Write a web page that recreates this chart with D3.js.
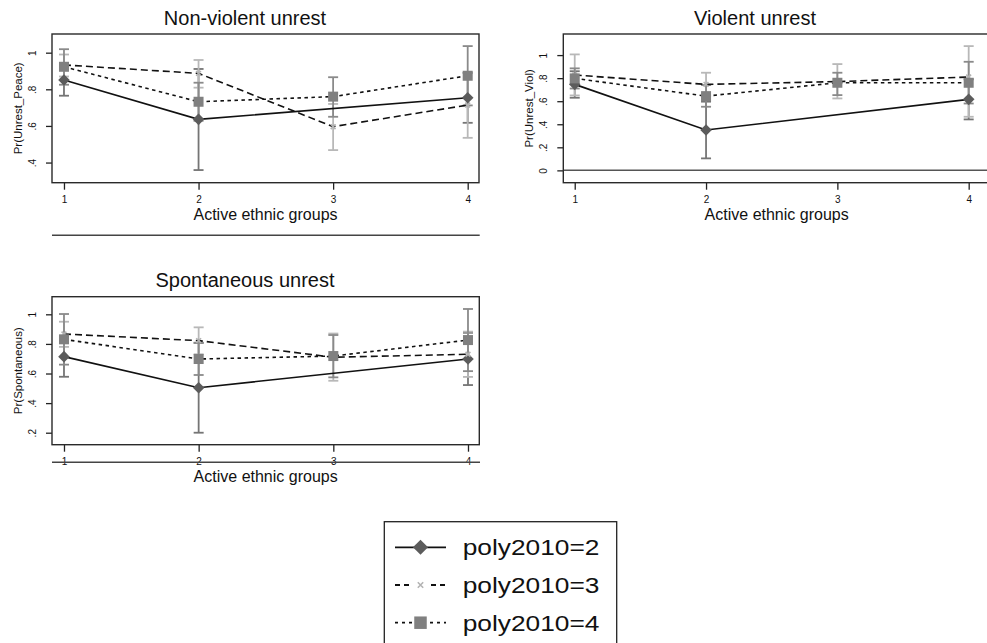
<!DOCTYPE html>
<html><head><meta charset="utf-8">
<script src="https://cdn.jsdelivr.net/npm/d3@7"></script>
<style>
body{margin:0;background:#fff}
svg{display:block}
text{font-family:"Liberation Sans",Arial,Helvetica,sans-serif;fill:#111}
</style>
</head><body>
<svg id="chart" width="987" height="643"></svg>
<script>
// ---------- DATA ----------
const groups = [1, 2, 3, 4];
const seriesNames = ["poly2010=2", "poly2010=3", "poly2010=4"];

// Non-violent unrest
const peace2    = [0.851, 0.636, null, 0.754];
const peace2Lo  = [0.765, 0.359, null, 0.617];
const peace2Hi  = [0.937, 0.911, null, 0.890];
const peace3    = [0.933, 0.887, 0.596, 0.714];
const peace3Lo  = [0.870, 0.809, 0.468, 0.535];
const peace3Hi  = [0.990, 0.960, 0.720, 0.890];
const peace4    = [0.923, 0.732, 0.760, 0.874];
const peace4Lo  = [0.825, 0.628, 0.650, 0.712];
const peace4Hi  = [1.019, 0.836, 0.866, 1.036];

// Violent unrest
const viol2     = [0.746, 0.350, null, 0.616];
const viol2Lo   = [0.630, 0.104, null, 0.442];
const viol2Hi   = [0.860, 0.596, null, 0.790];
const viol3     = [0.827, 0.746, 0.770, 0.810];
const viol3Lo   = [0.650, 0.645, 0.624, 0.465];
const viol3Hi   = [1.006, 0.847, 0.922, 1.078];
const viol4     = [0.798, 0.644, 0.760, 0.760];
const viol4Lo   = [0.710, 0.552, 0.653, 0.580];
const viol4Hi   = [0.885, 0.740, 0.847, 0.942];

// Spontaneous unrest
const spont2    = [0.714, 0.504, null, 0.698];
const spont2Lo  = [0.578, 0.200, null, 0.522];
const spont2Hi  = [0.850, 0.808, null, 0.875];
const spont3    = [0.867, 0.822, 0.710, 0.730];
const spont3Lo  = [0.780, 0.730, 0.551, 0.577];
const spont3Hi  = [0.950, 0.912, 0.870, 0.883];
const spont4    = [0.831, 0.698, 0.718, 0.826];
const spont4Lo  = [0.660, 0.590, 0.574, 0.616];
const spont4Hi  = [1.002, 0.806, 0.860, 1.036];

const peaceTicks = [0.4, 0.6, 0.8, 1];
const peaceTickLabels = [".4", ".6", ".8", "1"];
const violTicks = [0, 0.2, 0.4, 0.6, 0.8, 1];
const violTickLabels = ["0", ".2", ".4", ".6", ".8", "1"];
const spontTicks = [0.2, 0.4, 0.6, 0.8, 1];
const spontTickLabels = [".2", ".4", ".6", ".8", "1"];

const panelTitles = ["Non-violent unrest", "Violent unrest", "Spontaneous unrest"];
const yTitles = ["Pr(Unrest_Peace)", "Pr(Unrest_Viol)", "Pr(Spontaneous)"];
const xTitle = "Active ethnic groups";

// ---------- STYLE ----------
const markerFill = ["#5c5c5c", "#b3b3b3", "#808080"];
const ciColor = ["#757575", "#b8b8b8", "#8a8a8a"];
const dashes = [null, "7,4", "3.5,3.5"];
const shapes = ["diamond", "x", "square"];

const svg = d3.select("#chart");

const panels = [
  { title: panelTitles[0], titleX: 245, titleY: 25, ytitle: yTitles[0],
    box: {l: 52, r: 479, t: 34, b: 182.7},
    xDom: [0.911, 4.084], yDom: [0.29, 1.102],
    ticks: peaceTicks, tickLabels: peaceTickLabels,
    s: [[peace2, peace2Lo, peace2Hi], [peace3, peace3Lo, peace3Hi], [peace4, peace4Lo, peace4Hi]],
    extra: {type: "below", y: 235.3} },
  { title: panelTitles[1], titleX: 755, titleY: 25, ytitle: yTitles[1],
    box: {l: 563.3, r: 990, t: 34, b: 182.7},
    xDom: [0.913, null], yDom: [-0.107, 1.183],
    ticks: violTicks, tickLabels: violTickLabels,
    s: [[viol2, viol2Lo, viol2Hi], [viol3, viol3Lo, viol3Hi], [viol4, viol4Lo, viol4Hi]],
    extra: {type: "zero"} },
  { title: panelTitles[2], titleX: 245, titleY: 287, ytitle: yTitles[2],
    box: {l: 52, r: 479.3, t: 296.7, b: 444.7},
    xDom: [0.911, 4.084], yDom: [0.119, 1.119],
    ticks: spontTicks, tickLabels: spontTickLabels,
    s: [[spont2, spont2Lo, spont2Hi], [spont3, spont3Lo, spont3Hi], [spont4, spont4Lo, spont4Hi]],
    extra: {type: "labelline", y: 462.3} }
];

function drawMarker(g, shape, x, y, i, size) {
  if (shape === "diamond") {
    const h = size * 0.58;
    g.append("path").attr("d", `M${x},${y-h}L${x+h},${y}L${x},${y+h}L${x-h},${y}Z`)
      .attr("fill", markerFill[i]);
  } else if (shape === "square") {
    const h = size * 0.5;
    g.append("rect").attr("x", x-h).attr("y", y-h).attr("width", 2*h).attr("height", 2*h)
      .attr("fill", markerFill[i]);
  } else {
    const h = size * 0.3;
    g.append("path").attr("d", `M${x-h},${y-h}L${x+h},${y+h}M${x-h},${y+h}L${x+h},${y-h}`)
      .attr("stroke", markerFill[i]).attr("stroke-width", 1.6).attr("fill", "none");
  }
}

panels.forEach(p => {
  const B = p.box;
  let xd1 = p.xDom[1];
  if (xd1 === null) xd1 = 1 + (B.r - B.l) * 3 / (979.8 - 575); // same spacing as ticks
  const x = d3.scaleLinear().domain([p.xDom[0], xd1]).range([B.l, B.r]);
  const y = d3.scaleLinear().domain(p.yDom).range([B.b, B.t]);
  const g = svg.append("g");

  // title
  g.append("text").attr("x", p.titleX).attr("y", p.titleY).attr("text-anchor", "middle")
    .attr("font-size", 20).text(p.title);

  // zero line for violent panel
  if (p.extra.type === "zero") {
    g.append("line").attr("x1", B.l).attr("x2", B.r).attr("y1", y(0)).attr("y2", y(0))
      .attr("stroke", "#555").attr("stroke-width", 1.5);
  }

  // y axis
  const ya = g.append("g").attr("transform", `translate(${B.l},0)`)
    .call(d3.axisLeft(y).tickValues(p.ticks).tickSize(6)
      .tickFormat((d, i) => p.tickLabels[i]));
  ya.select(".domain").remove();
  ya.selectAll(".tick line").attr("stroke", "#222").attr("stroke-width", 1.3);
  ya.selectAll(".tick text").attr("transform", "rotate(-90)").attr("x", 0).attr("y", -16)
    .attr("dy", 0).attr("text-anchor", "middle").attr("font-size", 10)
    .attr("font-family", "Liberation Sans, Arial, sans-serif").attr("fill", "#111");
  g.append("text").attr("transform", `translate(${B.l - 30},${(B.t + B.b) / 2}) rotate(-90)`)
    .attr("text-anchor", "middle").attr("font-size", 11.5).text(p.ytitle);

  // x axis
  const xa = g.append("g").attr("transform", `translate(0,${B.b})`)
    .call(d3.axisBottom(x).tickValues(groups).tickSize(7).tickFormat(d3.format("d")));
  xa.select(".domain").remove();
  xa.selectAll(".tick line").attr("stroke", "#222").attr("stroke-width", 1.3);
  xa.selectAll(".tick text").attr("y", 20.7).attr("dy", 0).attr("font-size", 10)
    .attr("font-family", "Liberation Sans, Arial, sans-serif").attr("fill", "#111");
  g.append("text").attr("x", (B.l + B.r) / 2 + (p.extra.type === "zero" ? 0 : 0))
    .attr("y", B.b + 37.3).attr("text-anchor", "middle").attr("font-size", 16)
    .text(xTitle);

  if (p.extra.type === "below" || p.extra.type === "labelline") {
    g.append("line").attr("x1", B.l).attr("x2", B.r + 0.7).attr("y1", p.extra.y).attr("y2", p.extra.y)
      .attr("stroke", "#444").attr("stroke-width", 1.5);
  }

  // plot box
  g.append("rect").attr("x", B.l).attr("y", B.t).attr("width", B.r - B.l).attr("height", B.b - B.t)
    .attr("fill", "none").attr("stroke", "#2a2a2a").attr("stroke-width", 1.4);

  // CIs
  p.s.forEach((ser, i) => {
    const [v, lo, hi] = ser;
    groups.forEach((gv, k) => {
      if (v[k] === null) return;
      const cx = x(gv);
      g.append("line").attr("x1", cx).attr("x2", cx).attr("y1", y(lo[k])).attr("y2", y(hi[k]))
        .attr("stroke", ciColor[i]).attr("stroke-width", 1.8);
      [lo[k], hi[k]].forEach(c => {
        g.append("line").attr("x1", cx - 5).attr("x2", cx + 5).attr("y1", y(c)).attr("y2", y(c))
          .attr("stroke", ciColor[i]).attr("stroke-width", 1.8);
      });
    });
  });

  // lines
  p.s.forEach((ser, i) => {
    const pts = groups.map((gv, k) => [gv, ser[0][k]]).filter(d => d[1] !== null);
    const line = d3.line().x(d => x(d[0])).y(d => y(d[1]));
    const path = g.append("path").attr("d", line(pts)).attr("fill", "none")
      .attr("stroke", "#111").attr("stroke-width", 1.6);
    if (dashes[i]) path.attr("stroke-dasharray", dashes[i]);
  });

  // markers
  p.s.forEach((ser, i) => {
    groups.forEach((gv, k) => {
      if (ser[0][k] === null) return;
      drawMarker(g, shapes[i], x(gv), y(ser[0][k]), i, i === 0 ? 10 : (i === 1 ? 8 : 10));
    });
  });
});

// ---------- LEGEND ----------
const leg = svg.append("g");
leg.append("rect").attr("x", 384.3).attr("y", 521.7).attr("width", 232.4).attr("height", 140)
  .attr("fill", "#fff").attr("stroke", "#222").attr("stroke-width", 1.3);
const legY = d3.scalePoint().domain(seriesNames).range([547.3, 622.7]);
const legDash = [null, "5,4", "3,4"];
seriesNames.forEach((name, i) => {
  const cy = legY(name);
  const ln = leg.append("line").attr("x1", 395).attr("x2", 446).attr("y1", cy).attr("y2", cy)
    .attr("stroke", "#111").attr("stroke-width", 1.8);
  if (legDash[i]) ln.attr("stroke-dasharray", legDash[i]);
  if (i > 0) {
    leg.append("rect").attr("x", 412).attr("y", cy - 6).attr("width", 16).attr("height", 12).attr("fill", "#fff");
  }
  drawMarker(leg, shapes[i], 420.5, cy, i, i === 0 ? 13 : (i === 1 ? 9 : 12.5));
  leg.append("text").attr("x", 462.7).attr("y", cy + 7.8).attr("font-size", 22)
    .attr("textLength", 136.7).attr("lengthAdjust", "spacingAndGlyphs").text(name);
});
</script>
</body></html>
